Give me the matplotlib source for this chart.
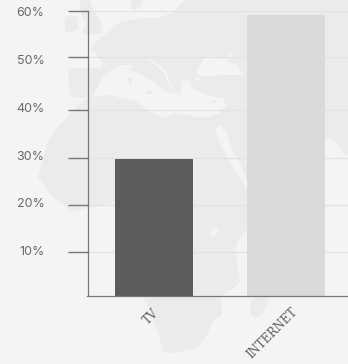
import matplotlib
matplotlib.use("Agg")
import matplotlib.pyplot as plt
from matplotlib.patches import Polygon

categories = ["TV", "INTERNET"]
values = [29.2, 59.1]
bar_colors = ["#5c5c5c", "#dadada"]
tick_labels = ["60%", "50%", "40%", "30%", "20%", "10%"]
label_positions = [59.7, 49.75, 39.8, 29.85, 20.1, 10.15]
tick_positions = [60, 50.36, 39.44, 29.42, 19.64, 10]

BG = "#f4f4f4"
LAND = "#ebebeb"

# Decorative background map, traced in image pixels
land_main = [(348,0),(348,155),(343,153),(340,147),(335,142),(330,138),(325,140),(290,170),(250,225),
    (245,232),(238,240),(235,250),(238,267),(240,280),(237,285),(227,292),(221,297),(222,315),(213,320),
    (208,333),(197,348),(180,352),(170,353),(163,352),(158,333),(150,310),(142,297),(135,280),(140,240),
    (135,205),(115,202),(87,208),(72,212),(67,208),(53,197),(38,177),(42,163),(47,143),(57,128),(67,118),
    (75,108),(88,98),(70,97),(68,68),(100,68),(103,63),(95,53),(90,50),(95,43),(107,33),(120,22),(140,18),
    (157,18),(172,13),(183,2),(185,0)]
land_extra = [
    [(65,18),(72,15),(78,18),(78,28),(70,33),(65,30)],
    [(80,0),(90,0),(93,10),(100,20),(103,33),(90,35),(82,33),(86,22),(80,12)],
    [(130,0),(143,0),(140,8),(132,10)],
    [(135,63),(150,60),(165,74),(168,84),(176,93),(165,92),(155,82),(140,74),(130,70)],
    [(145,91),(152,91),(152,94),(146,94)],
    [(128,78),(132,78),(132,85),(129,85)],
    [(210,102),(217,100),(215,103)],
    [(251,315),(250,305),(258,290),(268,270),(272,290),(263,313),(256,318)],
]
seas = [
    [(88,98),(93,97),(100,82),(103,77),(110,71),(120,65),(130,65),(150,63),(150,58),(167,72),(170,83),(177,93),
     (180,95),(182,86),(180,82),(190,79),(192,88),(207,95),(223,98),(226,105),(220,113),(207,117),(197,117),
     (174,113),(165,118),(150,112),(137,102),(110,95)],
    [(198,75),(197,70),(203,60),(208,55),(215,56),(222,60),(232,53),(233,58),(225,60),(237,65),(243,75),
     (220,75),(210,77)],
    [(195,78),(200,78),(200,80),(195,80)],
    [(215,128),(220,125),(227,133),(232,150),(240,163),(247,182),(255,195),(252,198),(243,182),(233,168),(223,150),(218,138)],
    [(210,235),(213,228),(220,229),(214,236)],
]

fig = plt.figure(figsize=(3.48, 3.64), dpi=100, facecolor=BG)

bg = fig.add_axes([0, 0, 1, 1], zorder=0)
bg.set_xlim(0, 348)
bg.set_ylim(364, 0)
bg.axis("off")
bg.add_patch(Polygon(land_main, closed=True, fc=LAND, ec="none"))
for s in seas:
    bg.add_patch(Polygon(s, closed=True, fc=BG, ec="none"))
for s in land_extra:
    bg.add_patch(Polygon(s, closed=True, fc=LAND, ec="none"))

ax = fig.add_axes([87.5/348, (364-295.5)/364, (348-87.5)/348, 285/364], zorder=1)
ax.patch.set_alpha(0)
ax.set_xlim(-0.504, 1.47)
ax.set_ylim(0.92, 60)
ax.bar(range(len(categories)), values, width=0.59, color=bar_colors, zorder=3)

for s in ("top", "right"):
    ax.spines[s].set_visible(False)
for s in ("left", "bottom"):
    ax.spines[s].set_color("#777777")
    ax.spines[s].set_linewidth(0.9)
    ax.spines[s].set_zorder(4)

ax.set_xticks([])
ax.set_yticks(label_positions, tick_labels, fontfamily="Inter", fontsize=9, color="#6a6a6a")
ax.tick_params(axis="y", which="major", length=0, pad=31)
ax.set_yticks(tick_positions, minor=True)
ax.tick_params(axis="y", which="minor", length=14.4, width=1.0, color="#777777")
ax.grid(True, which="minor", axis="y", color="#e2e2e2", linewidth=0.9, zorder=1)
ax.set_axisbelow(True)

label_offsets = [(-3, -21), (-14, -38)]
for i, (cat, off) in enumerate(zip(categories, label_offsets)):
    ax.annotate(cat, xy=(i, 0.92), xycoords="data", xytext=(off[0]*0.72, off[1]*0.72),
                textcoords="offset points", rotation=45, ha="center", va="center",
                rotation_mode="anchor", fontfamily="DejaVu Serif", fontsize=8.3,
                color="#5e5e5e", annotation_clip=False)

fig.savefig("out.png", dpi=100, facecolor=BG)
